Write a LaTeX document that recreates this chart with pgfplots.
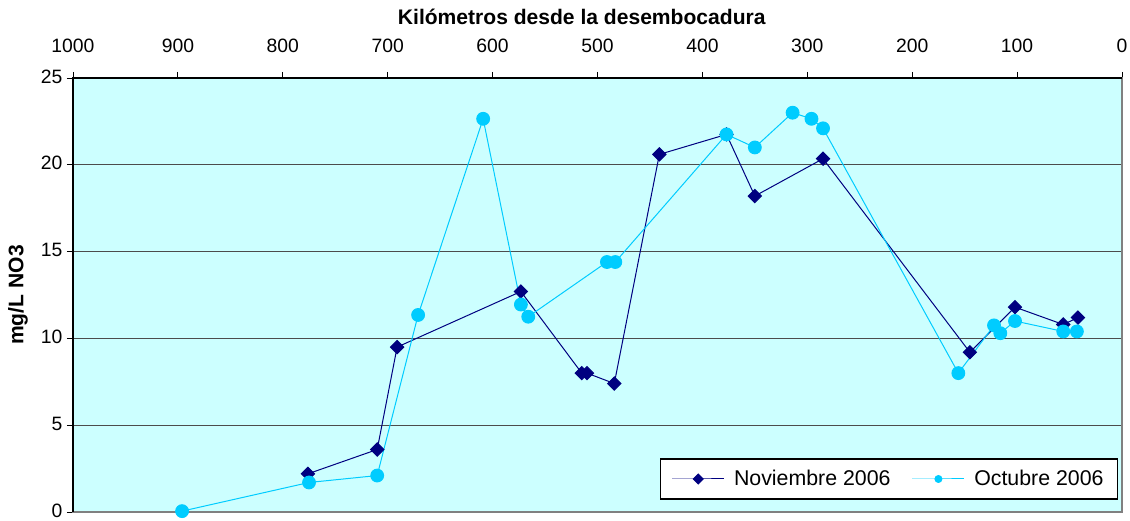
\documentclass[border=0pt]{standalone}
\usepackage{pgfplots}
\pgfplotsset{compat=1.18}
\usepackage{fontspec}
\setmainfont{Liberation Sans}
\definecolor{bgcyan}{HTML}{CCFFFF}
\definecolor{nov}{HTML}{000080}
\definecolor{octc}{HTML}{00CCFF}
\begin{document}
\begin{tikzpicture}
\useasboundingbox (-54.75pt,-6.5pt) rectangle (792.75pt,384pt);
\begin{axis}[
  at={(0,0)}, anchor=south west,
  scale only axis, width=786.75pt, height=325.5pt,
  x dir=reverse, xmin=0, xmax=1000, ymin=0, ymax=25,
  xtick={0,100,...,1000}, ytick={0,5,...,25},
  xtick pos=upper, ytick pos=lower, xticklabel pos=upper,
  tick align=outside, major tick length=4.5pt,
  tick style={black, line width=0.6pt},
  ymajorgrids, grid style={black!70, line width=0.9pt},
  axis background/.style={fill=bgcyan},
  axis line style={gray, line width=1pt},
  font=\fontsize{15.8pt}{18pt}\selectfont,
  ticklabel style={font=\fontsize{14.5pt}{17pt}\selectfont},
  xticklabel style={yshift=11pt},
  yticklabel style={yshift=1.2pt},
  /pgf/number format/assume math mode=true,
  /pgf/number format/1000 sep={},
  xlabel={\bfseries Kilómetros desde la desembocadura},
  xlabel style={at={(axis description cs:0.485,1.14)}, anchor=center},
  ylabel={\bfseries mg/L NO3},
  ylabel style={at={(axis description cs:-0.0524,0.5)}, anchor=center},
  clip=false,
  legend columns=2,
  legend style={at={(0.9965,0.028)}, anchor=south east, draw=black, line width=1.2pt, fill=white,
    font=\fontsize{16pt}{19pt}\selectfont, inner xsep=8.5pt, inner ysep=6.5pt,
    /tikz/every even column/.append style={column sep=14pt}},
  legend image code/.code={\draw[mark repeat=2,mark phase=2,#1,mark size=2.6pt] plot coordinates {(0pt,0pt) (19.5pt,0pt) (39pt,0pt)};},
]
\addplot[color=nov, line width=0.75pt, mark=square*, mark size=3.5pt, mark options={rotate=45, fill=nov, draw=nov}] coordinates {
(776,2.2) (710,3.6) (691,9.5) (573,12.7) (515,8.0) (510,8.0) (484,7.4) (441,20.6) (377,21.75) (350,18.2) (285,20.35) (145,9.2) (102,11.8) (56,10.8) (42,11.2)
};
\addlegendentry{\hspace{5pt}Noviembre 2006}
\addplot[color=octc, line width=0.75pt, mark=*, mark size=4.8pt, mark options={fill=octc, draw=octc}] coordinates {
(896,0.05) (775,1.7) (710,2.1) (671,11.35) (609,22.65) (573,11.95) (566,11.25) (491,14.4) (483,14.4) (377,21.75) (350,21.0) (314,23.0) (296,22.65) (285,22.1) (156,8.0) (122,10.75) (116,10.3) (102,11.0) (56,10.4) (43,10.4)
};
\addlegendentry{\hspace{5pt}Octubre 2006}
\draw[black, line width=1pt] (axis cs:1000,0) -- (axis cs:1000,25) -- (axis cs:0,25);
\end{axis}
\end{tikzpicture}
\end{document}
